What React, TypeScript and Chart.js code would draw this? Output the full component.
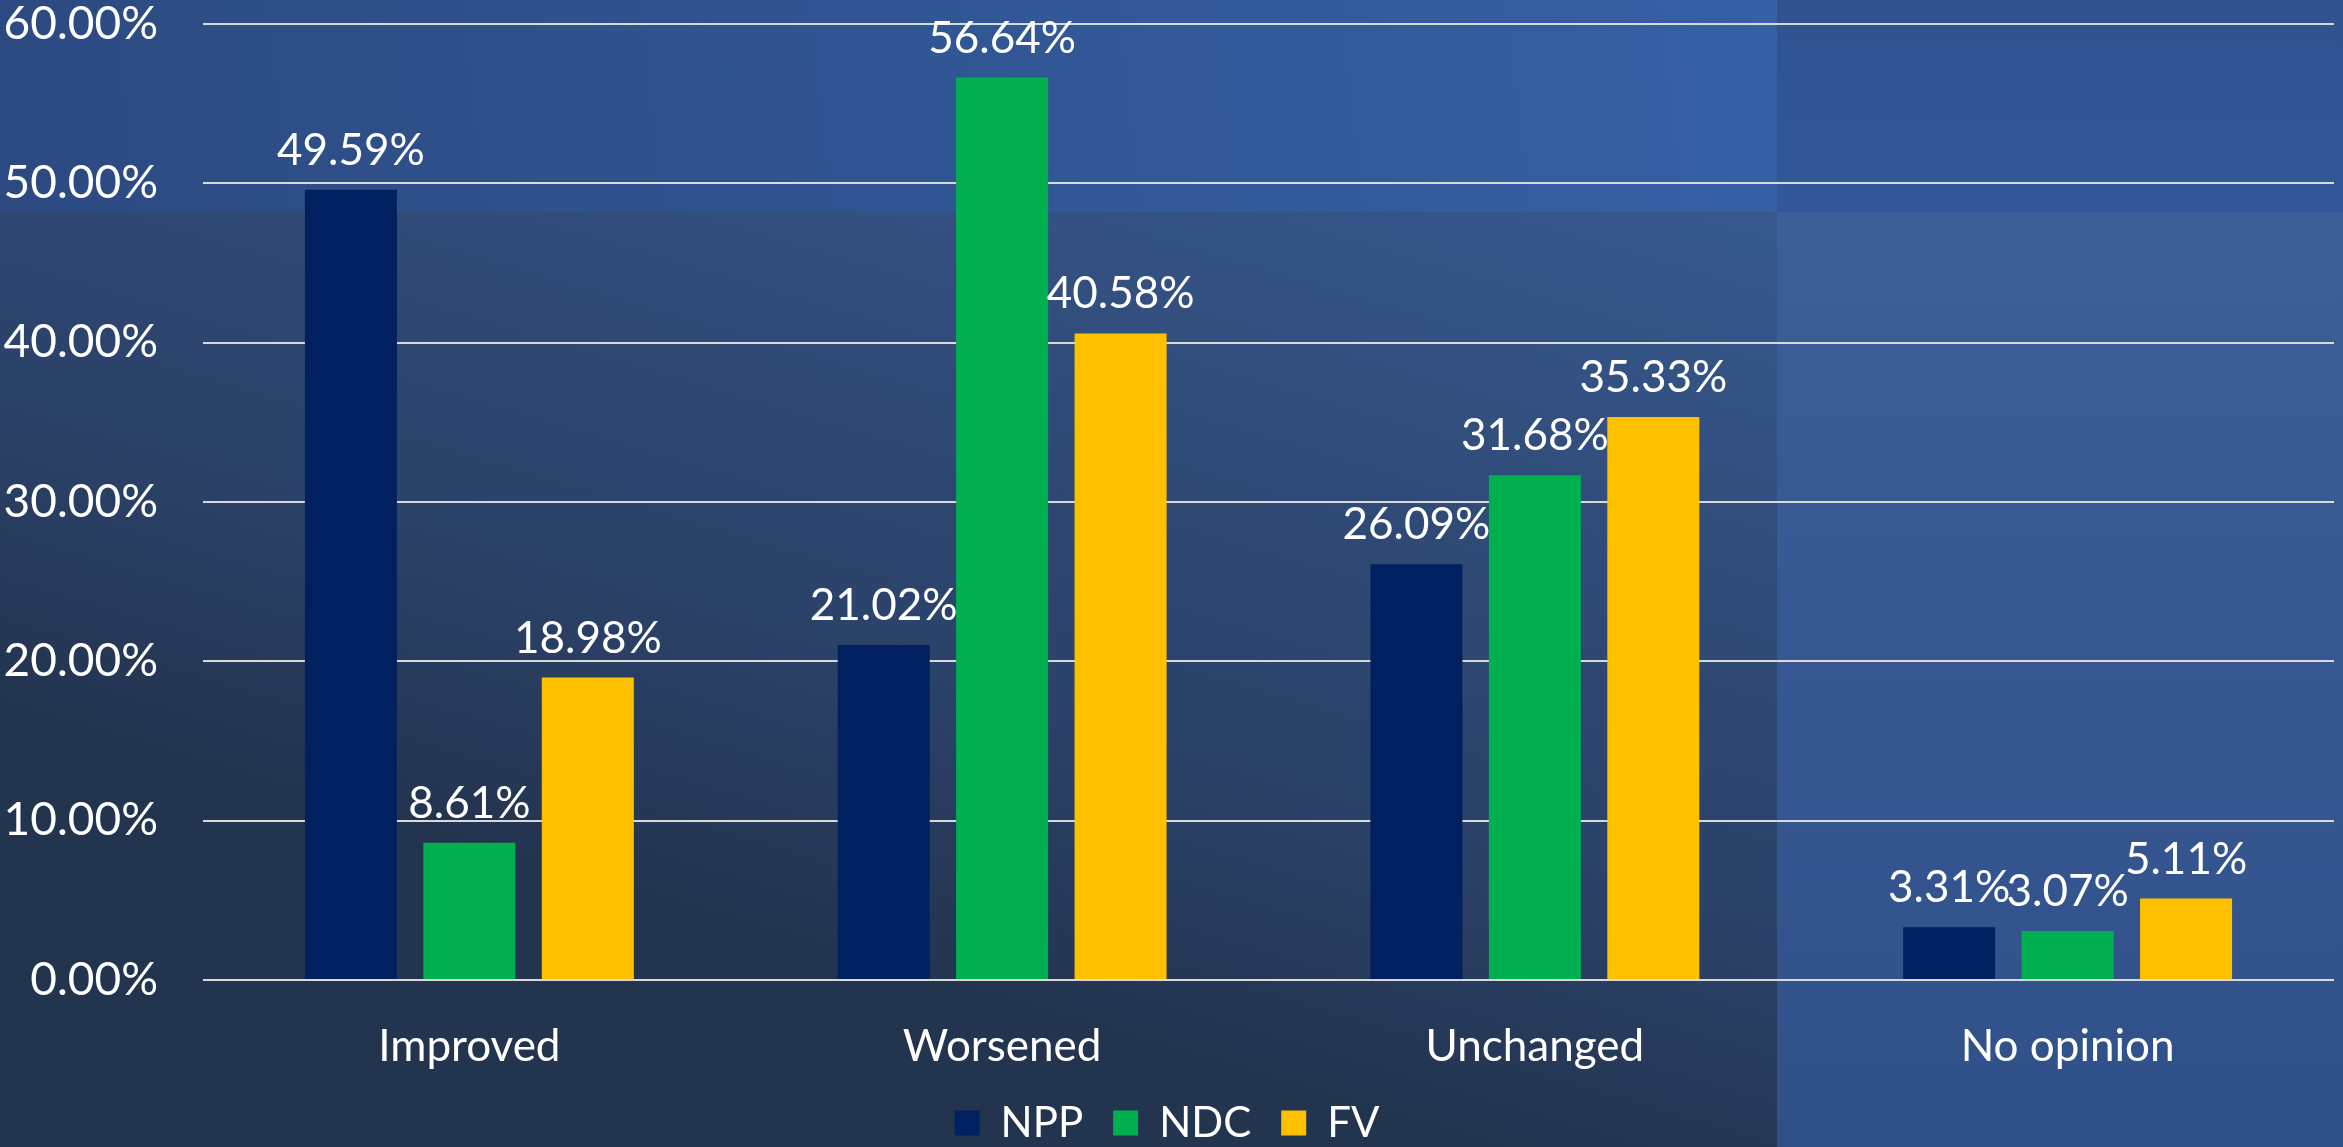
import React, { useEffect, useRef } from 'react';
import { Chart, registerables } from 'chart.js';

Chart.register(...registerables);

const categories = ['Improved', 'Worsened', 'Unchanged', 'No opinion'];
const seriesNames = ['NPP', 'NDC', 'FV'];
const nppValues = [49.59, 21.02, 26.09, 3.31];
const ndcValues = [8.61, 56.64, 31.68, 3.07];
const fvValues = [18.98, 40.58, 35.33, 5.11];
const seriesColors = ['#002060', '#00B050', '#FFC000'];
const yMin = 0;
const yMax = 60;
const yStep = 10;

const FONT = "Lato, 'Open Sans', sans-serif";
const W0 = 2343;
const H0 = 1147;

const backgroundPlugin = {
  id: 'panelBackground',
  beforeDraw(chart: any) {
    const { ctx, width: W, height: H } = chart;
    const sx = W / W0;
    const sy = H / H0;
    const bx = 1777 * sx;
    const by = 212 * sy;
    ctx.save();
    // top-left
    let g = ctx.createLinearGradient(0, by, bx, 0);
    g.addColorStop(0, '#2C4A81');
    g.addColorStop(1, '#3560A4');
    ctx.fillStyle = g;
    ctx.fillRect(0, 0, bx, by);
    // top-right
    g = ctx.createLinearGradient(0, 0, 0, by);
    g.addColorStop(0, '#30528F');
    g.addColorStop(1, '#32589A');
    ctx.fillStyle = g;
    ctx.fillRect(bx, 0, W - bx, by);
    // bottom-left
    g = ctx.createLinearGradient(bx, by, 1500 * sx, H);
    g.addColorStop(0, '#37598F');
    g.addColorStop(0.5, '#2E4772');
    g.addColorStop(0.7, '#2B4269');
    g.addColorStop(1, '#23344F');
    ctx.fillStyle = g;
    ctx.fillRect(0, by, bx, H - by);
    // bottom-right
    g = ctx.createLinearGradient(0, by, 0, H);
    g.addColorStop(0, '#3C5F98');
    g.addColorStop(1, '#30508A');
    ctx.fillStyle = g;
    ctx.fillRect(bx, by, W - bx, H - by);
    ctx.restore();
  },
};

const valueLabelPlugin = {
  id: 'valueLabels',
  afterDatasetsDraw(chart: any) {
    const ctx = chart.ctx;
    ctx.save();
    ctx.font = `44px ${FONT}`;
    ctx.fillStyle = '#ffffff';
    ctx.textAlign = 'center';
    ctx.textBaseline = 'alphabetic';
    chart.data.datasets.forEach((ds: any, i: number) => {
      const meta = chart.getDatasetMeta(i);
      meta.data.forEach((el: any, j: number) => {
        const v = ds.data[j];
        ctx.fillText(v.toFixed(2) + '%', el.x, el.y - 25);
      });
    });
    ctx.restore();
  },
};

export default function App() {
  const canvasRef = useRef<HTMLCanvasElement | null>(null);

  useEffect(() => {
    document.body.style.margin = '0';
    const canvas = canvasRef.current;
    if (!canvas) return;
    const valueSets = [nppValues, ndcValues, fvValues];
    const chart = new Chart(canvas, {
      type: 'bar',
      data: {
        labels: categories,
        datasets: seriesNames.map((name, i) => ({
          label: name,
          data: valueSets[i],
          backgroundColor: seriesColors[i],
          borderWidth: 0,
          categoryPercentage: 0.667,
          barPercentage: 0.777,
        })),
      },
      options: {
        animation: false,
        responsive: true,
        maintainAspectRatio: false,
        layout: { padding: { top: 24, right: 9, left: 0, bottom: -7 } },
        plugins: {
          legend: {
            position: 'bottom',
            labels: {
              color: '#ffffff',
              font: { family: FONT, size: 42 },
              boxWidth: 25,
              boxHeight: 25,
              padding: 30,
            },
          },
          tooltip: { enabled: false },
        },
        scales: {
          x: {
            grid: { display: false },
            border: { display: false },
            ticks: { color: '#ffffff', font: { family: FONT, size: 44 }, padding: 32 },
            afterFit: (s: any) => {
              const lg = s.chart.legend;
              const lh = lg && lg.height ? lg.height : 82;
              s.height = s.chart.height + 7 - lh - 980 * (s.chart.height / H0);
            },
          },
          y: {
            min: yMin,
            max: yMax,
            ticks: {
              stepSize: yStep,
              color: '#ffffff',
              font: { family: FONT, size: 46, lineHeight: 1 },
              padding: 45,
              callback: (v: any) => Number(v).toFixed(2) + '%',
            },
            grid: { color: '#D9D9D9', lineWidth: 2, drawTicks: false },
            border: { display: false },
            afterFit: (s: any) => {
              s.width = 203;
              s.paddingTop = 0;
              s.paddingBottom = 0;
            },
          },
        },
      },
      plugins: [backgroundPlugin, valueLabelPlugin],
    } as any);
    return () => chart.destroy();
  }, []);

  return (
    <div style={{ position: 'fixed', left: 0, top: 0, width: W0, height: H0 }}>
      <canvas ref={canvasRef} />
    </div>
  );
}
